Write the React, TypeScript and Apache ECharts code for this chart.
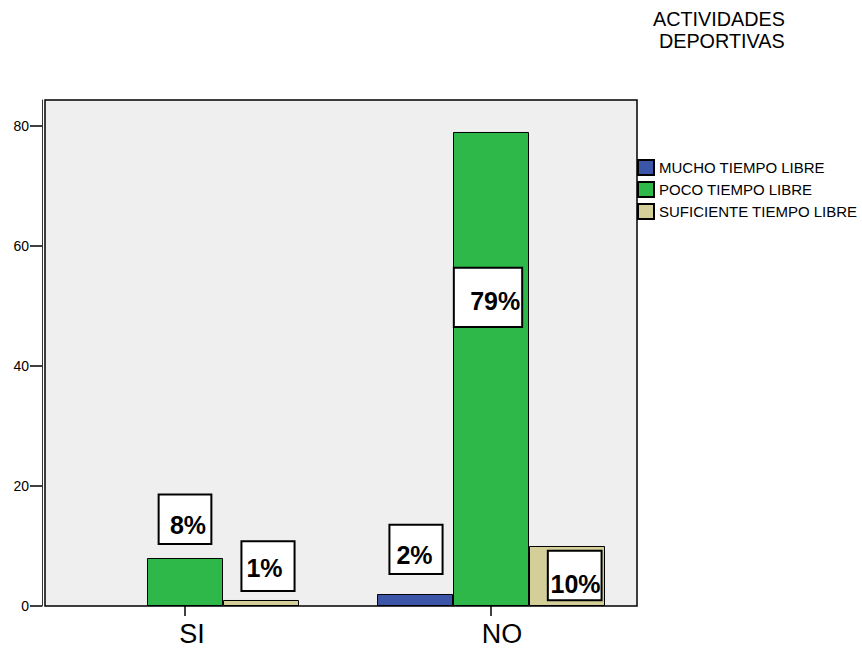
import React, { useEffect, useRef } from "react";
import * as echarts from "echarts";

const categories = ["SI", "NO"];
const seriesNames = ["MUCHO TIEMPO LIBRE", "POCO TIEMPO LIBRE", "SUFICIENTE TIEMPO LIBRE"];
const mucho: (number | null)[] = [null, 2];
const poco: (number | null)[] = [8, 79];
const suficiente: (number | null)[] = [1, 10];
const yTicks = [0, 20, 40, 60, 80];
const titleLines = ["ACTIVIDADES", " DEPORTIVAS"];

const FONT = "'Liberation Sans', Arial, sans-serif";
const colors = ["#3b56a8", "#2eb84a", "#d4cf99"];

// label box layout per series / category (styling only)
type LB = { pos: string; dist: number; dx: number; pad: number[] } | null;
const labelLayouts: LB[][] = [
  [null, { pos: "top", dist: 21, dx: 1, pad: [16.7, 9, 5.6, 6] }],
  [
    { pos: "top", dist: 15, dx: 0, pad: [17.6, 4.3, 5, 10.3] },
    { pos: "insideTop", dist: 136.7, dx: -3, pad: [19.6, 1, 12.7, 15.3] },
  ],
  [
    { pos: "top", dist: 10, dx: 7, pad: [12.8, 11, 9.9, 4] },
    { pos: "insideTop", dist: 5.7, dx: 7.7, pad: [20, 0, 2.6, 1.7] },
  ],
];

function buildData(values: (number | null)[], si: number) {
  return values.map((v, i) => {
    const lb = labelLayouts[si][i];
    if (v === null || !lb) return { value: v === null ? "-" : v, label: { show: false } };
    return {
      value: v,
      label: {
        show: true,
        position: lb.pos,
        distance: lb.dist,
        offset: [lb.dx, 0],
        formatter: "{c}%",
        fontFamily: FONT,
        fontSize: 25,
        fontWeight: "bold",
        lineHeight: 25,
        color: "#000",
        backgroundColor: "#fff",
        borderColor: "#000",
        borderWidth: 2,
        padding: lb.pad,
      },
    };
  });
}

export default function App() {
  const ref = useRef<HTMLDivElement>(null);
  useEffect(() => {
    document.body.style.margin = "0";
    if (!ref.current) return;
    const chart = echarts.init(ref.current, null, { renderer: "svg" });
    const allValues = [mucho, poco, suficiente];
    chart.setOption({
      animation: false,
      backgroundColor: "#fff",
      textStyle: { fontFamily: FONT },
      grid: { left: 32, right: 218, top: 100, bottom: 44, containLabel: false },
      graphic: [
        {
          type: "rect",
          z: -10,
          shape: { x: 45, y: 100, width: 592, height: 506 },
          style: { fill: "#efefef", stroke: "#000", lineWidth: 1.5 },
          silent: true,
        },
        {
          type: "text",
          x: 719,
          y: 8,
          style: {
            text: titleLines.join("\n"),
            fontFamily: FONT,
            fontSize: 19.8,
            lineHeight: 22,
            fill: "#000",
            textAlign: "center",
            textVerticalAlign: "top",
          },
        },
      ],
      legend: {
        orient: "vertical",
        left: 637,
        top: 159,
        itemWidth: 16,
        itemHeight: 15,
        itemGap: 5,
        icon: "rect",
        padding: 0,
        textStyle: { fontFamily: FONT, fontSize: 15, lineHeight: 15, color: "#000" },
        data: seriesNames,
      },
      xAxis: {
        type: "category",
        data: categories,
        axisLine: { show: false },
        axisTick: { show: true, alignWithLabel: true, length: 10, lineStyle: { color: "#000", width: 1.5 } },
        axisLabel: {
          margin: 14,
          formatter: (v: string) => (v === "SI" ? `{a|${v}}` : `{b|${v}}`),
          rich: {
            a: { fontFamily: FONT, fontSize: 27, lineHeight: 27, color: "#000", padding: [0, 0, 0, 14] },
            b: { fontFamily: FONT, fontSize: 27, lineHeight: 27, color: "#000", padding: [0, 0, 0, 22] },
          },
        },
        splitLine: { show: false },
      },
      yAxis: {
        type: "value",
        min: 0,
        max: 84.33,
        interval: 20,
        offset: -10,
        axisLine: { show: true, lineStyle: { color: "#333", width: 1 } },
        axisTick: { show: true, length: 12, customValues: yTicks, lineStyle: { color: "#000", width: 1.5 } },
        axisLabel: {
          margin: 13,
          customValues: yTicks,
          fontFamily: FONT,
          fontSize: 14,
          color: "#000",
        },
        splitLine: { show: false },
      },
      series: allValues.map((vals, si) => ({
        name: seriesNames[si],
        type: "bar",
        barWidth: 76,
        barGap: "0%",
        itemStyle: { color: colors[si], borderColor: "#000", borderWidth: 1 },
        data: buildData(vals, si),
        z: 2,
      })),
    });
    return () => chart.dispose();
  }, []);
  return (
    <div
      ref={ref}
      style={{ position: "fixed", left: 0, top: 0, width: 862, height: 650 }}
    />
  );
}
